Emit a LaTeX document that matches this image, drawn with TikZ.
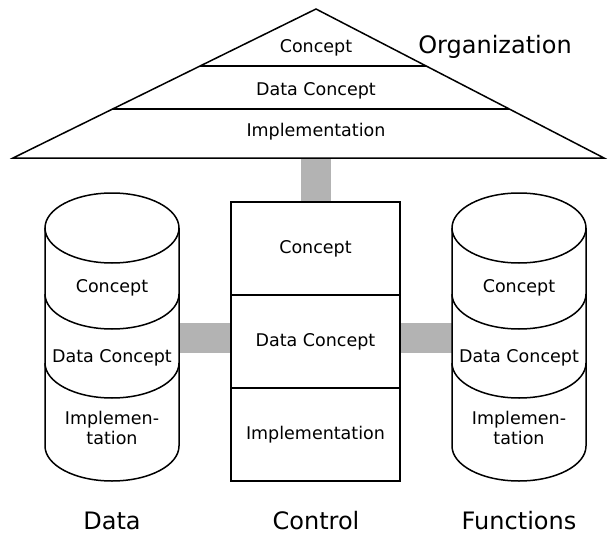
\documentclass[tikz,border=0pt]{standalone}
\usepackage{fontspec}
\setmainfont{DejaVu Sans}
\usetikzlibrary{calc}
\definecolor{bargray}{RGB}{179,179,179}
\tikzset{
  outline/.style={line width=1.5pt, black},
  small/.style={font=\fontsize{17.5}{20}\selectfont, inner sep=0pt, align=center},
  big/.style={font=\fontsize{24}{28}\selectfont, inner sep=0pt},
  bar/.style={line width=30pt, bargray},
  cell/.style={draw, outline, fill=white, minimum width=169pt, minimum height=93pt, inner sep=0pt, font=\fontsize{17.5}{20}\selectfont},
  body/.style={minimum width=134pt, minimum height=218pt, inner sep=0pt}
}
\begin{document}
\begin{tikzpicture}[x=1pt,y=-1pt]
\useasboundingbox (0,0) rectangle (608,535);
% organization triangle
\coordinate (apex) at (316,9);
\coordinate (bl) at (13,158);
\coordinate (br) at (604,158);
\coordinate (orgbase) at (315.5,158);
% control column
\node[cell] (c1) at (315.5,248.5) {Concept};
\node[cell] (c2) at (315.5,341.5) {Data Concept};
\node[cell] (c3) at (315.5,434.5) {Implementation};
% cylinder bodies (invisible anchors)
\node[body] (dat) at (112,337) {};
\node[body] (fun) at (519,337) {};
% connectors (drawn first)
\draw[bar] (orgbase) -- (c1.north);
\draw[bar] ([yshift=4pt]c2.west) -- ([yshift=4pt]c2.west -| dat.east);
\draw[bar] ([yshift=4pt]c2.east) -- ([yshift=4pt]c2.east -| fun.west);
% redraw control cells on top
\node[cell] at (c1) {Concept};
\node[cell] at (c2) {Data Concept};
\node[cell] at (c3) {Implementation};
% triangle
\draw[outline, fill=white] (apex) -- (bl) -- (br) -- cycle;
\draw[outline] ($(apex)!0.3826!(bl)$) -- ($(apex)!0.3826!(br)$);
\draw[outline] ($(apex)!0.671!(bl)$) -- ($(apex)!0.671!(br)$);
\node[small] (oc) at (316,48) {Concept};
\node[small] (od) at (316,91) {Data Concept};
\node[small] (oi) at (316,132) {Implementation};
\node[big] (org) at (495,47) {Organization};
% cylinders
\foreach \cx/\nm in {112/d, 519/f} {
  \draw[outline, fill=white] (\cx-67,228) -- (\cx-67,446)
     arc[start angle=180, end angle=360, x radius=67pt, y radius=35pt]
     -- (\cx+67,228);
  \draw[outline] (\cx,228) ellipse [x radius=67pt, y radius=35pt];
  \draw[outline] (\cx-67,294) arc[start angle=180, end angle=360, x radius=67pt, y radius=35pt];
  \draw[outline] (\cx-67,363) arc[start angle=180, end angle=360, x radius=67pt, y radius=35pt];
  \node[small] (\nm1) at (\cx,288) {Concept};
  \node[small] (\nm2) at (\cx,358) {Data Concept};
  \node[small] (\nm3) at (\cx,428) {Implemen-\\tation};
}
% labels
\node[big] (ldata) at (112,521) {Data};
\node[big] (lctrl) at (316,521) {Control};
\node[big] (lfun) at (519,521) {Functions};
\end{tikzpicture}
\end{document}
